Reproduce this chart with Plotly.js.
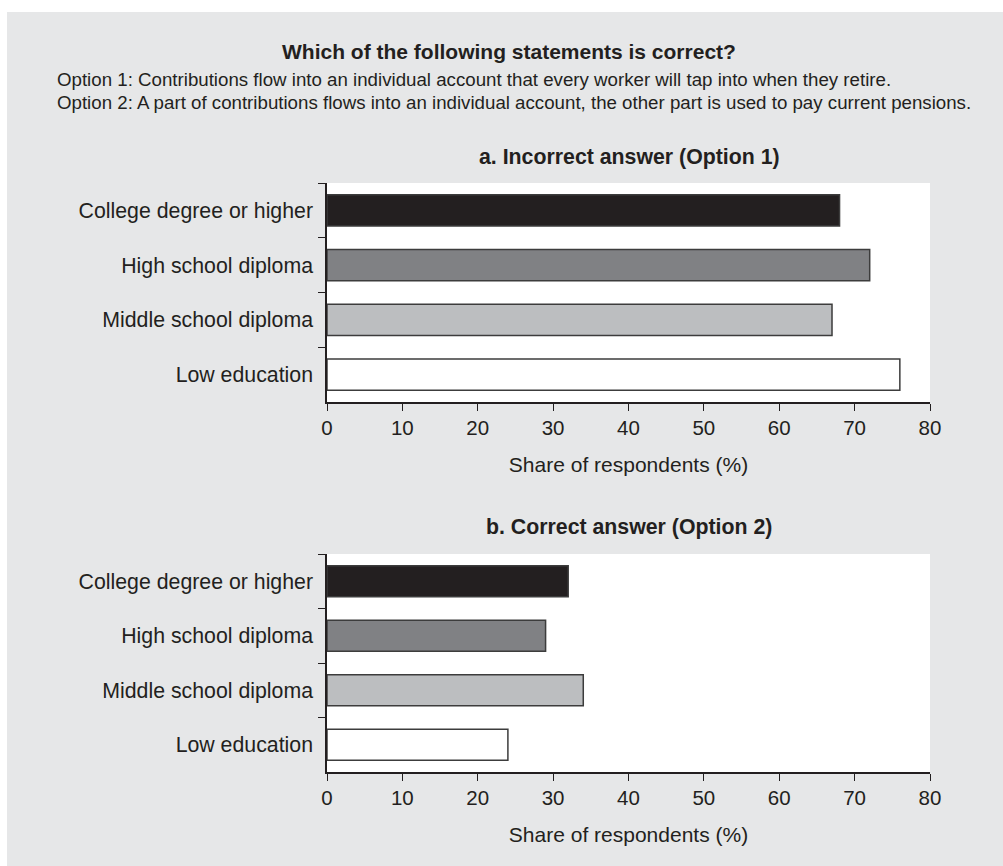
<!DOCTYPE html>
<html>
<head>
<meta charset="utf-8">
<script src="https://cdn.plot.ly/plotly-3.0.1.min.js"></script>
<style>
  html, body { margin: 0; padding: 0; background: #ffffff; }
  #chart { position: absolute; left: 7px; top: 12px; width: 996px; height: 854px; }
</style>
</head>
<body>
<div id="chart"></div>
<script>
// ---- Data ----
const categories = ["College degree or higher", "High school diploma", "Middle school diploma", "Low education"];
const incorrectOption1 = [68, 72, 67, 76];
const correctOption2 = [32, 29, 34, 24];
const xTickValues = [0, 10, 20, 30, 40, 50, 60, 70, 80];
const mainTitle = "Which of the following statements is correct?";
const option1Text = "Option 1: Contributions flow into an individual account that every worker will tap into when they retire.";
const option2Text = "Option 2: A part of contributions flows into an individual account, the other part is used to pay current pensions.";
const panelATitle = "a. Incorrect answer (Option 1)";
const panelBTitle = "b. Correct answer (Option 2)";
const xAxisTitle = "Share of respondents (%)";

// ---- Styles ----
const barColors = ["#231f20", "#808184", "#bcbec0", "#ffffff"];
const textColor = "#231f20";
const fontFamily = "'Liberation Sans', Arial, Helvetica, sans-serif";

function barTrace(values, xa, ya) {
  return {
    type: "bar",
    orientation: "h",
    y: categories,
    x: values,
    xaxis: xa,
    yaxis: ya,
    marker: { color: barColors, line: { color: "#3c3c3c", width: 1.5 } },
    hoverinfo: "x+y",
    showlegend: false
  };
}

const xAxisCommon = {
  range: [0, 80],
  tickvals: xTickValues,
  ticks: "outside",
  ticklen: 7,
  tickwidth: 1.3,
  tickcolor: textColor,
  showline: true,
  linecolor: textColor,
  linewidth: 1.5,
  showgrid: false,
  zeroline: false,
  fixedrange: true,
  ticklabelstandoff: 0,
  tickfont: { family: fontFamily, size: 20.5, color: textColor },
  title: { text: xAxisTitle, font: { family: fontFamily, size: 21, color: textColor }, standoff: 19 }
};

const yAxisCommon = {
  type: "category",
  categoryorder: "array",
  categoryarray: categories,
  autorange: "reversed",
  ticks: "outside",
  tickson: "boundaries",
  ticklen: 7,
  tickwidth: 1.3,
  tickcolor: textColor,
  showline: true,
  linecolor: textColor,
  linewidth: 1.5,
  showgrid: false,
  zeroline: false,
  fixedrange: true,
  ticklabelstandoff: 8,
  tickfont: { family: fontFamily, size: 21.3, color: textColor }
};

const W = 996, H = 854;
const xDom = [320 / W, 923 / W];

const layout = {
  width: W,
  height: H,
  margin: { l: 0, r: 0, t: 0, b: 0 },
  paper_bgcolor: "#e6e7e8",
  plot_bgcolor: "#ffffff",
  bargap: 0.43,
  xaxis: Object.assign({}, xAxisCommon, { domain: xDom, anchor: "y" }),
  yaxis: Object.assign({}, yAxisCommon, { domain: [1 - 390 / H, 1 - 171 / H], anchor: "x" }),
  xaxis2: Object.assign({}, xAxisCommon, { domain: xDom, anchor: "y2" }),
  yaxis2: Object.assign({}, yAxisCommon, { domain: [1 - 760 / H, 1 - 542 / H], anchor: "x2" }),
  annotations: [
    { text: "<b>" + mainTitle + "</b>", xref: "paper", yref: "paper", x: 502 / W, y: 1 - 39 / H,
      xanchor: "center", yanchor: "middle", showarrow: false,
      font: { family: fontFamily, size: 21, color: textColor } },
    { text: option1Text, xref: "paper", yref: "paper", x: 48 / W, y: 1 - 68 / H,
      xanchor: "left", yanchor: "middle", showarrow: false,
      font: { family: fontFamily, size: 18.7, color: textColor } },
    { text: option2Text, xref: "paper", yref: "paper", x: 48 / W, y: 1 - 90 / H,
      xanchor: "left", yanchor: "middle", showarrow: false,
      font: { family: fontFamily, size: 18.7, color: textColor } },
    { text: "<b>" + panelATitle + "</b>", xref: "paper", yref: "paper", x: 622 / W, y: 1 - 145 / H,
      xanchor: "center", yanchor: "middle", showarrow: false,
      font: { family: fontFamily, size: 21.3, color: textColor } },
    { text: "<b>" + panelBTitle + "</b>", xref: "paper", yref: "paper", x: 622 / W, y: 1 - 515 / H,
      xanchor: "center", yanchor: "middle", showarrow: false,
      font: { family: fontFamily, size: 21.3, color: textColor } }
  ]
};

const data = [
  barTrace(incorrectOption1, "x", "y"),
  barTrace(correctOption2, "x2", "y2")
];

Plotly.newPlot("chart", data, layout, { displayModeBar: false });
</script>
</body>
</html>
